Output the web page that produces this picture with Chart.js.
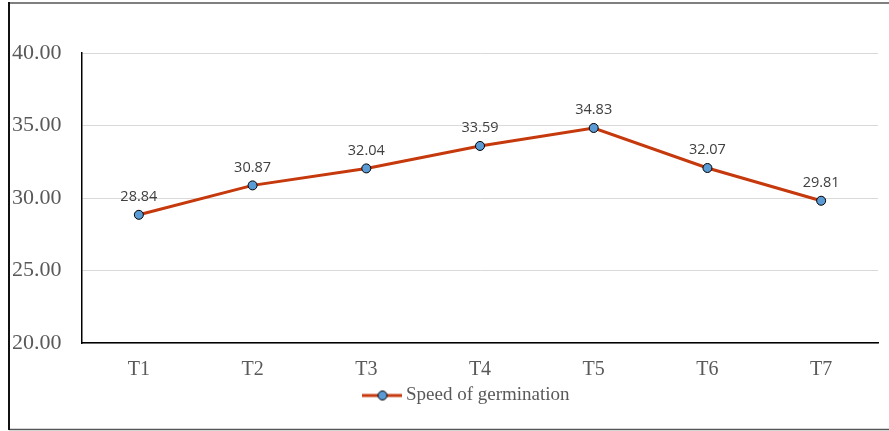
<!DOCTYPE html>
<html>
<head>
<meta charset="utf-8">
<script src="https://cdn.jsdelivr.net/npm/chart.js@4/dist/chart.umd.min.js"></script>
<style>
  html, body { margin: 0; padding: 0; background: #fff; }
  #wrap { width: 889px; height: 431px; position: relative; }
</style>
</head>
<body>
<div id="wrap"><canvas id="chart"></canvas></div>
<script>
const treatments = ['T1', 'T2', 'T3', 'T4', 'T5', 'T6', 'T7'];
const speedValues = [28.84, 30.87, 32.04, 33.59, 34.83, 32.07, 29.81];
const seriesName = 'Speed of germination';

const lineColor = '#c5390c';
const markerColor = '#5b9bd5';

// little picture for the legend: line with a dot in the middle
const legendIcon = document.createElement('canvas');
legendIcon.width = 40;
legendIcon.height = 12;
(function() {
  const c = legendIcon.getContext('2d');
  c.strokeStyle = lineColor;
  c.lineWidth = 3;
  c.beginPath();
  c.moveTo(0, 6);
  c.lineTo(40, 6);
  c.stroke();
  c.fillStyle = markerColor;
  c.strokeStyle = '#000';
  c.lineWidth = 1;
  c.beginPath();
  c.arc(20, 6, 4.5, 0, Math.PI * 2);
  c.fill();
  c.stroke();
})();

// value labels above each point
const valueLabels = {
  id: 'valueLabels',
  afterDatasetsDraw(chart) {
    const ctx = chart.ctx;
    const meta = chart.getDatasetMeta(0);
    ctx.save();
    ctx.font = '14.5px "Open Sans", sans-serif';
    ctx.fillStyle = '#404040';
    ctx.textAlign = 'center';
    ctx.textBaseline = 'middle';
    meta.data.forEach((pt, i) => {
      ctx.fillText(speedValues[i].toFixed(2), pt.x, pt.y - 18);
    });
    ctx.restore();
  }
};

// legend sits a bit right of the canvas centre, under the plot
const legendShift = {
  id: 'legendShift',
  afterLayout(chart) {
    if (chart.legend) {
      chart.legend.left += 24;
      chart.legend.right += 24;
    }
  }
};

// frame round the whole picture
const frame = {
  id: 'frame',
  afterDraw(chart) {
    const ctx = chart.ctx;
    ctx.save();
    ctx.strokeStyle = '#555';
    ctx.lineWidth = 1.5;
    ctx.beginPath();
    ctx.moveTo(9, 3);
    ctx.lineTo(889, 3);
    ctx.moveTo(9, 429.5);
    ctx.lineTo(889, 429.5);
    ctx.stroke();
    ctx.strokeStyle = '#111';
    ctx.lineWidth = 2;
    ctx.beginPath();
    ctx.moveTo(9, 2);
    ctx.lineTo(9, 430);
    ctx.stroke();
    ctx.restore();
  }
};

new Chart(document.getElementById('chart'), {
  type: 'line',
  data: {
    labels: treatments,
    datasets: [{
      label: seriesName,
      data: speedValues,
      borderColor: lineColor,
      borderWidth: 3,
      backgroundColor: markerColor,
      pointBackgroundColor: markerColor,
      pointBorderColor: '#000',
      pointBorderWidth: 1,
      pointRadius: 4.5,
      pointStyle: 'circle',
      tension: 0
    }]
  },
  options: {
    responsive: true,
    maintainAspectRatio: false,
    animation: false,
    layout: { padding: { left: 12, right: 11, top: 53, bottom: 16 } },
    plugins: {
      legend: {
        position: 'bottom',
        labels: {
          usePointStyle: true,
          pointStyle: legendIcon,
          pointStyleWidth: 28,
          padding: 5,
          color: '#595959',
          font: { family: '"Liberation Serif", serif', size: 19 }
        }
      },
      tooltip: { enabled: false }
    },
    scales: {
      x: {
        offset: true,
        afterFit(axis) { axis.height = 38; },
        grid: { display: false, drawTicks: false },
        border: { color: '#000', width: 1.5 },
        ticks: {
          padding: 15,
          color: '#595959',
          font: { family: '"Liberation Serif", serif', size: 20 }
        }
      },
      y: {
        min: 20,
        max: 40,
        afterFit(axis) { axis.width = 70; },
        grid: { color: '#d9d9d9', drawTicks: false },
        border: { color: '#000', width: 1.5 },
        ticks: {
          stepSize: 5,
          crossAlign: 'far',
          color: '#595959',
          font: { family: '"Liberation Serif", serif', size: 22 },
          callback: v => v.toFixed(2)
        }
      }
    }
  },
  plugins: [valueLabels, legendShift, frame]
});
</script>
</body>
</html>
